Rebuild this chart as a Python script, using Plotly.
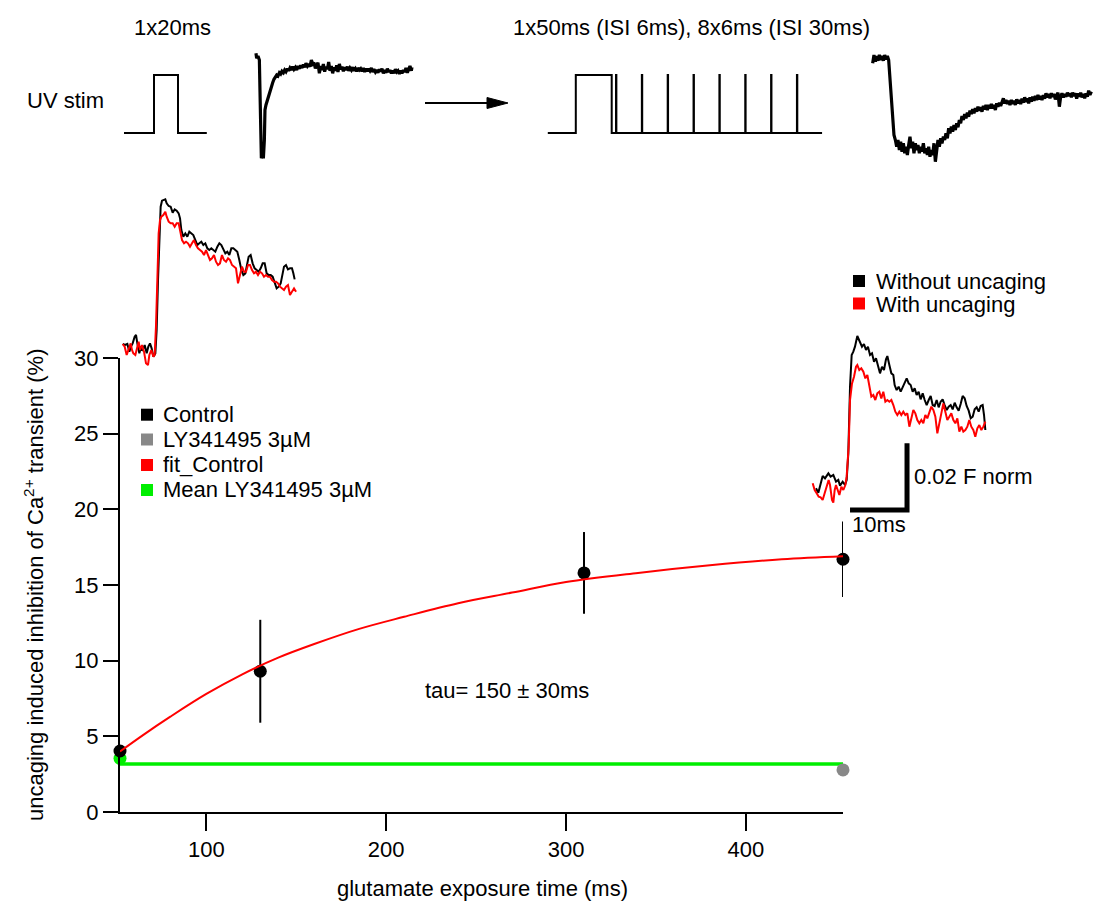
import plotly.graph_objects as go

W, H = 1095, 901
FONT = "Liberation Sans, Arial, sans-serif"

# ---------------- main panel data ----------------
exposure_ms = [52, 130, 310, 454]
control_inhib = [4.03, 9.3, 15.8, 16.7]
control_err = [0.0, 3.4, 2.7, 2.5]
ly_exposure_ms = [52, 454]
ly_inhib = [3.55, 2.78]
ly_point_colors = ["#00ee00", "#888888"]
ly_mean_x = [52, 454]
ly_mean_y = [3.17, 3.17]
fit_x = [52, 65, 80, 100, 120, 140, 160, 185, 210, 240, 270, 300, 340, 380, 420, 454]
fit_y = [4.0, 5.1, 6.3, 7.8, 9.1, 10.2, 11.1, 12.1, 12.9, 13.8, 14.5, 15.2, 15.8, 16.3, 16.7, 16.9]
x_ticks = [100, 200, 300, 400]
y_ticks = [0, 5, 10, 15, 20, 25, 30]

# ---------------- Ca2+ transient insets (time in ms, dF in 1e-3 F norm) ----------------
caL_t_black = [0.12, 0.53, 0.94, 1.29, 1.58, 1.87, 2.22, 2.46, 2.69, 3.04,
               3.27, 3.63, 3.98, 4.33, 4.62, 4.91, 5.20, 5.50, 5.85, 6.08,
               6.32, 6.55, 6.78, 7.02, 7.37, 7.60, 7.84, 8.19, 8.54, 8.89,
               9.24, 9.59, 9.94, 10.18, 10.41, 10.76, 11.11, 11.46, 11.81, 12.16,
               12.51, 12.87, 13.22, 13.57, 13.92, 14.27, 14.62, 14.97, 15.32, 15.67,
               16.02, 16.37, 16.73, 17.08, 17.43, 17.78, 18.13, 18.48, 18.83, 19.18,
               19.53, 19.88, 20.23, 20.58, 20.94, 21.29, 21.64, 21.87, 22.22, 22.57,
               22.92, 23.27, 23.63, 23.98, 24.33, 24.68, 25.03, 25.38, 25.73, 26.08,
               26.43, 26.78, 27.13, 27.49, 27.84, 28.19, 28.42, 28.77, 29.12, 29.47,
               29.82, 30.06, 30.29]
caL_black = [0.8, 0.5, 0.8, -1.5, 0.0, 1.0, 3.0, 3.5, 1.0, -2.0,
             -0.5, -1.0, 0.5, -2.0, 0.0, 1.0, -0.5, -3.0, -2.0, 5.0,
             20.0, 35.0, 42.0, 43.8, 44.0, 44.2, 43.0, 42.2, 42.0, 40.2,
             41.2, 40.8, 40.0, 38.5, 35.0, 33.0, 34.0, 33.0, 34.5, 34.0,
             33.5, 32.0, 30.5, 31.0, 31.5, 30.5, 31.0, 29.5, 29.0, 29.5,
             29.0, 28.5, 30.0, 31.0, 30.5, 29.0, 28.0, 28.5, 27.5, 29.5,
             29.5, 29.0, 28.5, 26.0, 23.0, 21.5, 22.0, 24.0, 27.0, 27.5,
             25.0, 23.5, 23.0, 22.5, 23.5, 25.0, 25.0, 22.0, 21.5, 21.5,
             21.0, 19.0, 17.5, 18.0, 19.0, 22.0, 24.0, 24.5, 23.2, 23.5,
             23.5, 22.0, 20.2]
caL_t_red = [0.12, 0.47, 0.82, 1.17, 1.52, 1.75, 1.99, 2.34, 2.69, 2.92,
             3.16, 3.51, 3.86, 4.21, 4.56, 4.80, 5.15, 5.50, 5.73, 5.96,
             6.20, 6.43, 6.67, 6.90, 7.25, 7.60, 7.84, 8.19, 8.54, 8.89,
             9.24, 9.59, 9.94, 10.18, 10.53, 10.88, 11.23, 11.58, 11.93, 12.28,
             12.63, 12.98, 13.33, 13.68, 14.04, 14.39, 14.74, 15.09, 15.44, 15.79,
             16.14, 16.49, 16.84, 17.19, 17.54, 17.89, 18.25, 18.60, 18.95, 19.30,
             19.65, 20.00, 20.35, 20.70, 21.05, 21.40, 21.75, 22.11, 22.46, 22.81,
             23.16, 23.51, 23.86, 24.21, 24.56, 24.91, 25.26, 25.61, 25.96, 26.32,
             26.67, 27.02, 27.37, 27.72, 28.07, 28.42, 28.77, 29.12, 29.47, 29.82,
             30.18, 30.53]
caL_red = [0.8, 0.0, -2.5, -1.0, 1.0, -1.0, -2.0, -2.5, -0.5, 1.5,
           -1.0, 0.5, -1.5, -5.0, -5.5, -2.5, -1.0, -3.0, -2.5, 6.0,
           20.0, 34.0, 38.0, 39.0, 39.5, 40.5, 39.0, 37.5, 37.0, 37.0,
           36.0, 37.0, 37.0, 34.5, 32.0, 31.0, 31.5, 31.0, 30.0, 31.0,
           32.0, 30.5, 29.5, 29.0, 28.5, 27.5, 29.0, 27.5, 26.0, 26.5,
           27.5, 25.5, 24.5, 25.0, 27.5, 26.0, 25.5, 26.5, 26.0, 24.5,
           24.0, 23.5, 19.0, 22.0, 24.0, 22.5, 22.5, 24.5, 24.5, 23.0,
           22.0, 22.5, 21.5, 22.5, 22.0, 21.0, 21.5, 21.0, 21.0, 20.0,
           19.5, 19.5, 19.0, 18.0, 17.5, 17.0, 18.0, 18.5, 15.5, 16.5,
           17.5, 16.5]

caR_t_black = [0.70, 1.11, 1.87, 2.28, 2.87, 3.27, 3.74, 4.21, 4.62, 4.91,
               5.38, 5.79, 6.08, 6.37, 6.67, 6.96, 7.25, 7.54, 7.95, 8.42,
               8.77, 9.12, 9.47, 9.82, 10.18, 10.53, 10.88, 11.23, 11.58, 11.93,
               12.28, 12.63, 12.98, 13.22, 13.57, 13.92, 14.27, 14.50, 14.85, 15.20,
               15.56, 15.91, 16.26, 16.61, 16.96, 17.31, 17.66, 18.01, 18.36, 18.71,
               19.06, 19.42, 19.77, 20.12, 20.47, 20.82, 21.17, 21.52, 21.87, 22.22,
               22.57, 22.92, 23.27, 23.63, 23.98, 24.33, 24.68, 25.03, 25.38, 25.73,
               26.08, 26.43, 26.78, 27.13, 27.49, 27.84, 28.19, 28.54, 28.89, 29.24,
               29.59, 29.94, 30.18, 30.41]
caR_black = [-0.4, -1.7, 3.3, 2.6, 4.1, 3.1, 3.6, 1.6, 2.1, 0.4,
             1.6, 0.6, 2.1, 10.1, 30.1, 39.6, 40.6, 42.1, 45.3, 43.6,
             42.1, 42.9, 41.1, 42.1, 39.6, 40.1, 37.6, 38.6, 36.6, 34.1,
             36.1, 35.1, 38.3, 39.3, 36.6, 34.1, 33.6, 30.6, 29.1, 30.1,
             28.6, 30.1, 31.1, 32.6, 31.1, 30.6, 28.6, 29.6, 27.6, 28.6,
             26.3, 28.1, 26.1, 24.6, 26.1, 27.3, 24.6, 24.3, 26.1, 23.9,
             25.6, 26.3, 24.6, 23.1, 24.1, 24.6, 23.3, 25.3, 23.9, 22.9,
             24.9, 27.3, 26.6, 24.3, 22.9, 20.6, 21.1, 23.3, 23.9, 22.6,
             24.3, 24.6, 21.6, 17.1]
caR_t_red = [0.12, 0.47, 0.82, 1.17, 1.52, 1.87, 2.22, 2.57, 2.92, 3.16,
             3.51, 3.74, 3.98, 4.21, 4.44, 4.80, 5.15, 5.50, 5.85, 6.08,
             6.43, 6.67, 7.02, 7.37, 7.72, 7.95, 8.30, 8.65, 9.01, 9.36,
             9.71, 10.06, 10.41, 10.76, 11.11, 11.46, 11.81, 12.16, 12.51, 12.87,
             13.22, 13.57, 13.92, 14.27, 14.62, 14.97, 15.32, 15.67, 16.02, 16.37,
             16.73, 17.08, 17.43, 17.78, 18.13, 18.48, 18.83, 19.18, 19.53, 19.88,
             20.23, 20.58, 20.94, 21.29, 21.64, 21.99, 22.34, 22.69, 23.04, 23.39,
             23.74, 24.09, 24.44, 24.80, 25.15, 25.50, 25.85, 26.20, 26.55, 26.90,
             27.25, 27.60, 27.95, 28.30, 28.65, 29.01, 29.36, 29.71, 30.06, 30.41]
caR_red = [1.1, -0.9, -1.9, -2.9, -3.1, -3.9, -1.9, 0.1, 2.1, 0.6,
           -3.9, -4.7, -0.9, 0.6, -0.4, -2.4, 0.1, -0.9, 0.6, 3.1,
           12.1, 26.1, 31.1, 33.1, 36.1, 36.6, 35.1, 35.6, 34.6, 32.6,
           33.6, 30.1, 27.1, 27.6, 26.1, 28.1, 28.6, 26.6, 28.6, 25.6,
           26.1, 25.6, 26.1, 24.6, 22.6, 21.6, 22.6, 21.6, 22.6, 21.6,
           22.1, 18.1, 21.1, 23.1, 22.1, 20.1, 19.1, 20.1, 19.1, 21.6,
           20.6, 22.1, 24.1, 23.1, 21.1, 16.1, 19.1, 22.1, 25.1, 22.6,
           20.1, 21.1, 22.1, 20.1, 19.1, 20.6, 16.6, 18.1, 16.6, 17.1,
           18.1, 20.1, 18.1, 17.1, 15.1, 17.6, 18.6, 17.1, 18.1, 19.6]

scale_bar_ms = 10
scale_bar_dF = 20          # 0.02 F norm in 1e-3 units

# ---------------- top row: uncaging responses (arbitrary units) ----------------
cur1_t = [-0.7, 0, 1.3, 2.7, 3.3, 4, 4.7, 6, 6.7, 7.7,
          8.3, 9.3, 10.7, 12, 13.3, 14.7, 16, 17.3, 18.7, 20,
          21.3, 22.7, 24, 25.3, 26.7, 28, 29.3, 30.7, 32, 33.3,
          34.7, 36, 37.3, 38.7, 40, 41.3, 42.7, 44, 45.3, 46.7,
          48, 49.3, 50.7, 52, 53.3, 54.7, 56, 57.3, 58.7, 60,
          61.3, 62.7, 64, 65.3, 66.7, 68, 69.3, 70.7, 72, 73.3,
          74.7, 76, 77.3, 78.7, 80, 81.3, 82.7, 84, 85.3, 86.7,
          88, 89.3, 90.7, 92, 93.3, 94.7, 96, 97.3, 98.7, 100,
          101.3, 102.7, 104, 105.3, 106.7, 108, 109.3, 110.7, 112, 113.3,
          114.7, 116, 117.3, 118.7, 120, 121.3, 122.7, 124, 125.3, 126.7,
          128, 129.3, 130.7, 132, 133.3, 134.7, 136, 137.3, 138.7, 140,
          141.3, 142.7, 144, 145.3, 146.7, 148, 149.3, 150.7, 152, 153.3,
          154.7, 155.3]
cur1_v = [16.7, 11.7, 14, 10, -20, -70, -88.3, -83.3, -88.3, -70,
          -40, -35, -30, -25, -20, -16.7, -12.7, -9.3, -7.3, -5,
          -6, -2.7, -4, -1.3, -2.7, 0, -1.7, 1.3, -0.7, 2,
          0, 3.3, 0.7, 2.7, 0, 4, 1.3, 4.7, 2, 5.3,
          2.7, 6.7, 4, 6, 3.3, 10, 6, 7.3, 1.7, 5,
          7.3, -3.3, 4, 0, 6, -1.7, 3.3, 0.7, 8, -0.7,
          4, -3.3, 2.7, -0.7, 4.7, -2, 6, 0.7, 3.3, -1.3,
          2.7, 0, 3.3, -0.7, 2, 0, 2.7, -0.7, 1.3, -1.3,
          2, 0, 1.3, -1.3, 2, -2, 1.3, -1.3, 1.3, -0.7,
          2, -2, 0.7, -2, 0, -2.7, 0.7, -1.3, 1.3, -3.3,
          0, -2.7, 1.3, -2, 0, -3.3, -0.7, -3.3, 0.7, -2,
          -0.7, -4, -0.7, -3.3, 0, -2, 2, -2.7, 1.3, 4,
          -0.7, 2.7]

cur2_t = [0, 1.3, 2.7, 4, 5.3, 6.7, 8, 9.3, 10.7, 12,
          13.3, 14.7, 16, 17.3, 18.7, 20, 21.3, 22.7, 24, 25.3,
          26.7, 28, 29.3, 30.7, 32, 33.3, 34.7, 36, 37.3, 38.7,
          40, 41.3, 42.7, 44, 45.3, 46.7, 48, 49.3, 50.7, 52,
          53.3, 54.7, 56, 57.3, 58.7, 60, 61.3, 62.7, 64, 65.3,
          66.7, 68, 69.3, 70.7, 72, 73.3, 74.7, 76, 77.3, 78.7,
          80, 81.3, 82.7, 84, 85.3, 86.7, 88, 89.3, 90.7, 92,
          93.3, 94.7, 96, 97.3, 98.7, 100, 101.3, 102.7, 104, 105.3,
          106.7, 108, 109.3, 110.7, 112, 113.3, 114.7, 116, 117.3, 118.7,
          120, 121.3, 122.7, 124, 125.3, 126.7, 128, 129.3, 130.7, 132,
          133.3, 134.7, 136, 137.3, 138.7, 140, 141.3, 142.7, 144, 145.3,
          146.7, 148, 149.3, 150.7, 152, 153.3, 154.7, 156, 157.3, 158.7,
          160, 161.3, 162.7, 164, 165.3, 166.7, 168, 169.3, 170.7, 172,
          173.3, 174.7, 176, 177.3, 178.7, 180, 181.3, 182.7, 184, 185.3,
          186.7, 188, 189.3, 190.7, 192, 193.3, 194.7, 196, 197.3, 198.7,
          200, 201.3, 202.7, 204, 205.3, 206.7, 208, 209.3, 210.7, 212,
          213.3, 214.7, 216, 217.3, 218.7]
cur2_v = [-3.3, 5, -1.7, 4, -0.7, 5, 0, 4, -0.7, 5,
          0.7, 4, 0, -20, -40, -60, -75, -80, -86.7, -80,
          -90, -81.7, -91.7, -83.3, -93.3, -86.7, -95, -85, -76.7, -88.3,
          -81.7, -93.3, -83.3, -90, -85, -93.3, -86.7, -91.7, -83.3, -93.3,
          -88.3, -95, -86.7, -96.7, -90, -95, -83.3, -101.7, -90, -80,
          -86.7, -78.3, -83.3, -76.7, -80, -73.3, -78.3, -68.3, -73.3, -66.7,
          -71.7, -65, -70, -63.3, -67.3, -60, -63.3, -56, -60, -54,
          -58.3, -52.7, -56.7, -50.7, -54, -49.3, -53.3, -48.3, -51.7, -46.7,
          -50.7, -47.3, -51.7, -46, -49.3, -45, -50, -45, -48.3, -44,
          -48.3, -45, -50, -43.3, -46.7, -42.7, -46, -40.7, -38.3, -43.3,
          -40, -44, -40.7, -45, -40, -44, -40.7, -45, -39.3, -43.3,
          -40, -44, -38.7, -42.7, -37.3, -42, -38.3, -43.3, -37.3, -41.7,
          -36.7, -40.7, -36, -40, -35, -39.3, -36, -40, -35.3, -38.7,
          -33.3, -37.3, -34, -38.3, -33.3, -36.7, -34, -39.3, -35, -32.7,
          -46.7, -36.7, -33.3, -37.3, -34, -36.7, -32.7, -36, -33.3, -37.3,
          -32.7, -36, -33.3, -38.7, -33.3, -36.7, -32.7, -37.3, -34, -38.3,
          -33.3, -36.7, -30.7, -35, -31.7]

# ---------------- UV stimulation protocols (ms) ----------------
stim1_on = [0]
stim1_off = [20]
stim1_window = [-25, 44]
stim2_on = [0, 56, 92, 128, 164, 200, 236, 272, 308]
stim2_off = [50, 56.5, 92.5, 128.5, 164.5, 200.5, 236.5, 272.5, 308.5]
stim2_window = [-39, 343]


def step_trace(on, off, window):
    t, v = [window[0]], [0]
    for a, b in zip(on, off):
        t += [a, a, b, b]
        v += [0, 1, 1, 0]
    t.append(window[1])
    v.append(0)
    return t, v


def px(x):
    return x / W


def py(y):
    return 1 - y / H


def hidden_axes(xbox, ybox, x0, xs, y0, ys):
    xa = dict(domain=[px(xbox[0]), px(xbox[1])],
              range=[(xbox[0] - x0) / xs, (xbox[1] - x0) / xs],
              visible=False, fixedrange=True, automargin=False)
    ya = dict(domain=[py(ybox[1]), py(ybox[0])],
              range=[(y0 - ybox[1]) / ys, (y0 - ybox[0]) / ys],
              visible=False, fixedrange=True, automargin=False)
    return xa, ya


fig = go.Figure()

# main panel
fig.add_trace(go.Scatter(x=ly_mean_x, y=ly_mean_y, mode="lines",
                         line=dict(color="#00ee00", width=3.5), xaxis="x", yaxis="y",
                         cliponaxis=False, name="Mean LY341495 3µM"))
fig.add_trace(go.Scatter(x=ly_exposure_ms, y=ly_inhib, mode="markers",
                         marker=dict(color=ly_point_colors, size=13), xaxis="x", yaxis="y",
                         cliponaxis=False, name="LY341495 3µM"))
fig.add_trace(go.Scatter(x=exposure_ms, y=control_inhib, mode="markers",
                         marker=dict(color="black", size=13),
                         error_y=dict(type="data", array=control_err, color="black",
                                      thickness=2, width=0),
                         xaxis="x", yaxis="y", cliponaxis=False, name="Control"))
fig.add_trace(go.Scatter(x=fit_x, y=fit_y, mode="lines",
                         line=dict(color="#ff0000", width=2, shape="spline"),
                         xaxis="x", yaxis="y", cliponaxis=False, name="fit_Control"))

# Ca insets
fig.add_trace(go.Scatter(x=caL_t_black, y=caL_black, mode="lines",
                         line=dict(color="black", width=2), xaxis="x2", yaxis="y2"))
fig.add_trace(go.Scatter(x=caL_t_red, y=caL_red, mode="lines",
                         line=dict(color="#ff0000", width=2), xaxis="x2", yaxis="y2"))
fig.add_trace(go.Scatter(x=caR_t_black, y=caR_black, mode="lines",
                         line=dict(color="black", width=2), xaxis="x3", yaxis="y3"))
fig.add_trace(go.Scatter(x=caR_t_red, y=caR_red, mode="lines",
                         line=dict(color="#ff0000", width=2), xaxis="x3", yaxis="y3"))

bar_t0, bar_s0 = 6.67, -6.9
fig.add_trace(go.Scatter(x=[bar_t0, bar_t0 + scale_bar_ms, bar_t0 + scale_bar_ms],
                         y=[bar_s0, bar_s0, bar_s0 + scale_bar_dF], mode="lines",
                         line=dict(color="black", width=5), xaxis="x3", yaxis="y3"))

# uncaging responses
fig.add_trace(go.Scatter(x=cur1_t, y=cur1_v, mode="lines",
                         line=dict(color="black", width=3.2), xaxis="x4", yaxis="y4"))
fig.add_trace(go.Scatter(x=cur2_t, y=cur2_v, mode="lines",
                         line=dict(color="black", width=3.2), xaxis="x5", yaxis="y5"))

# stimulation protocols
s1t, s1v = step_trace(stim1_on, stim1_off, stim1_window)
s2t, s2v = step_trace(stim2_on, stim2_off, stim2_window)
fig.add_trace(go.Scatter(x=s1t, y=s1v, mode="lines",
                         line=dict(color="black", width=2), xaxis="x6", yaxis="y6"))
fig.add_trace(go.Scatter(x=s2t, y=s2v, mode="lines",
                         line=dict(color="black", width=2), xaxis="x7", yaxis="y7"))

x2, y2 = hidden_axes((108, 312), (185, 375), 122, 5.7, 346.67, 3.333)
x3, y3 = hidden_axes((800, 1000), (320, 540), 812, 5.7, 487, 3.333)
x4, y4 = hidden_axes((240, 430), (35, 175), 256.67, 1.0, 70, 1.0)
x5, y5 = hidden_axes((862, 1095), (35, 175), 872.67, 1.0, 60, 1.0)
x6, y6 = hidden_axes((110, 220), (60, 150), 154, 1.2, 133, 58)
x7, y7 = hidden_axes((540, 830), (60, 150), 575.8, 0.718, 133, 58)
for i, (xa, ya) in enumerate([(x2, y2), (x3, y3), (x4, y4), (x5, y5), (x6, y6), (x7, y7)], start=2):
    xa["anchor"] = f"y{i}"
    ya["anchor"] = f"x{i}"
    fig.update_layout(**{f"xaxis{i}": xa, f"yaxis{i}": ya})

axis_common = dict(showline=True, linewidth=2, linecolor="black", ticks="outside",
                   tickwidth=2, tickcolor="black", showgrid=False, zeroline=False,
                   automargin=False,
                   tickfont=dict(size=22, color="black", family=FONT), fixedrange=True)
fig.update_layout(
    width=W, height=H, autosize=False,
    margin=dict(l=0, r=0, t=0, b=0, pad=0, autoexpand=False),
    paper_bgcolor="white", plot_bgcolor="rgba(0,0,0,0)",
    font=dict(family=FONT, size=22, color="black"),
    showlegend=False,
    xaxis=dict(domain=[px(120), px(843)], range=[52, 454], tickmode="array",
               tickvals=x_ticks, ticklen=17, anchor="y", **axis_common),
    yaxis=dict(domain=[py(812), py(358)], range=[0, 30], tickmode="array",
               tickvals=y_ticks, ticklen=15, anchor="x", **axis_common),
)

annotations = []


def text(t, x, y, xanchor="center", angle=0, size=22, height=None):
    a = dict(text=t, x=px(x), y=py(y), xref="paper", yref="paper",
             xanchor=xanchor, yanchor="middle", showarrow=False,
             textangle=angle, font=dict(size=size, color="black", family=FONT))
    if height:
        a["height"] = height
    annotations.append(a)


text("uncaging induced inhibition of Ca<sup>2+</sup> transient (%)", 34, 585, angle=-90)
text("glutamate exposure time (ms)", 482, 888)
text("tau= 150 ± 30ms", 507, 690)
text("1x20ms", 172.5, 27)
text("UV stim", 25, 101, xanchor="left")
text("1x50ms (ISI 6ms), 8x6ms (ISI 30ms)", 691, 27)

legend1 = [("Control", "black", 414.7), ("LY341495 3µM", "#888888", 439.5),
           ("fit_Control", "#ff0000", 465), ("Mean LY341495 3µM", "#00ee00", 490)]
legend2 = [("Without uncaging", "black", 281), ("With uncaging", "#ff0000", 303.5)]
shapes = []
for label, col, yy in legend1:
    shapes.append(dict(type="rect", xref="paper", yref="paper",
                       x0=px(141), x1=px(153), y0=py(yy + 6), y1=py(yy - 6),
                       fillcolor=col, line=dict(width=0)))
    text(label, 161, yy, xanchor="left", height=25)
for label, col, yy in legend2:
    shapes.append(dict(type="rect", xref="paper", yref="paper",
                       x0=px(853), x1=px(865), y0=py(yy + 6), y1=py(yy - 6),
                       fillcolor=col, line=dict(width=0)))
    text(label, 874, yy, xanchor="left", height=26)

# scale bar labels (in inset coordinates)
annotations.append(dict(text="0.02 F norm", x=bar_t0 + scale_bar_ms + 0.9,
                        y=bar_s0 + scale_bar_dF / 2, xref="x3", yref="y3",
                        xanchor="left", yanchor="middle", showarrow=False,
                        font=dict(size=22, color="black", family=FONT)))
annotations.append(dict(text="10ms", x=bar_t0, y=bar_s0 - 4.2, xref="x3", yref="y3",
                        xanchor="left", yanchor="middle", showarrow=False,
                        font=dict(size=22, color="black", family=FONT)))

# arrow between protocols
shapes.append(dict(type="line", xref="paper", yref="paper", x0=px(425), x1=px(492),
                   y0=py(103), y1=py(103), line=dict(color="black", width=2)))
shapes.append(dict(type="path", xref="paper", yref="paper",
                   path=f"M {px(487)},{py(97.5)} L {px(508)},{py(103)} L {px(487)},{py(108.5)} Z",
                   fillcolor="black", line=dict(color="black", width=1)))

fig.update_layout(annotations=annotations, shapes=shapes)
fig.write_html("out.html")
